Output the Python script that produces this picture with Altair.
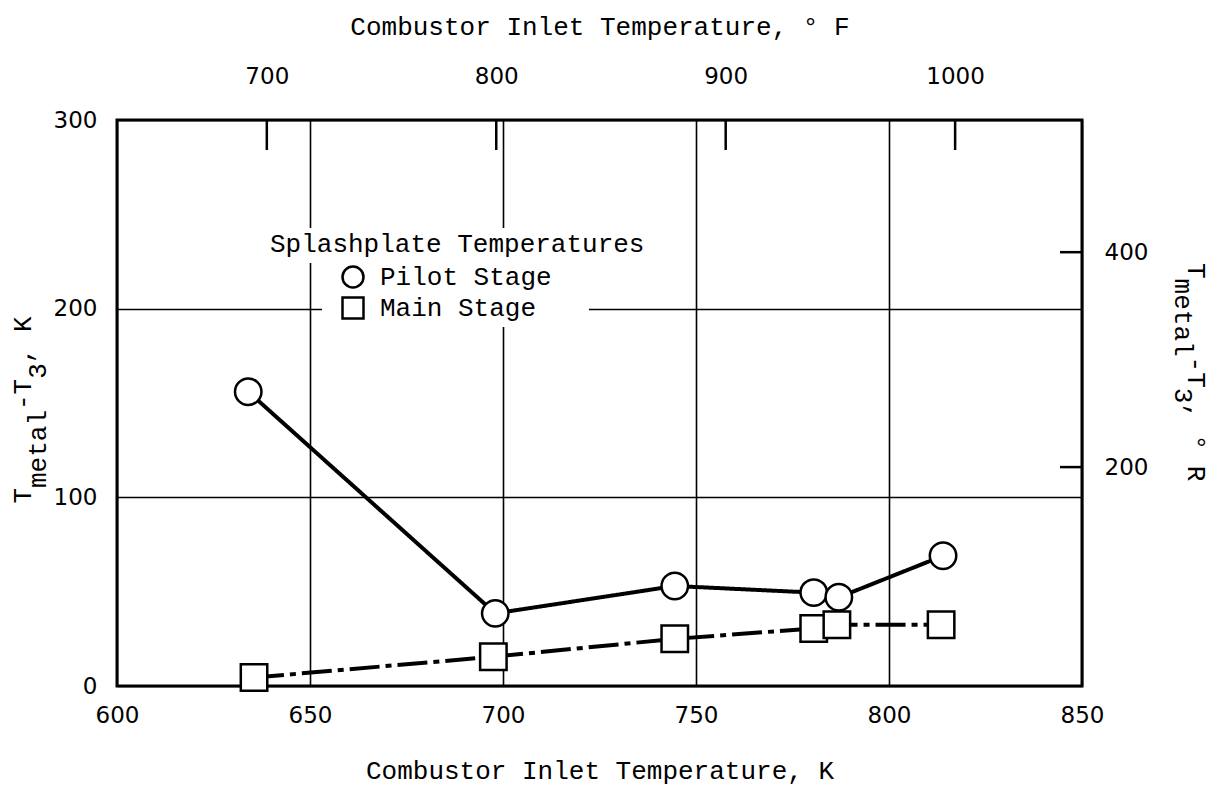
import altair as alt
import pandas as pd

# Splashplate metal temperature rise above the combustor inlet temperature
stages = ["Pilot Stage", "Main Stage"]
stage_shapes = ["circle", "square"]
inlet_K_pilot = [634, 698, 744.5, 780.5, 787, 814]
dT_pilot = [156, 38.5, 53, 49.5, 47, 69]
inlet_K_main = [635.5, 697.5, 744.5, 780.5, 786.5, 813.5]
dT_main = [4.5, 15.5, 25, 30.5, 32.5, 32.5]

# Axis tick values
k_ticks = [600, 650, 700, 750, 800, 850]
dT_ticks = [0, 100, 200, 300]
f_ticks = [700, 800, 900, 1000]
r_ticks = [200, 400]

# Scale extents (K and dT on the primary axes, deg F along the top, deg R on the right)
k_domain = [600, 850]
dT_domain = [0, 300]
f_domain = [634.7, 1055.3]
r_domain = [-3.7, 523]

legend_title = "Splashplate Temperatures"

W, H = 965, 566
MONO = "Liberation Mono"
NUM = "DejaVu Sans"

pilot = pd.DataFrame({"K": inlet_K_pilot, "dT": dT_pilot, "stage": stages[0]})
main = pd.DataFrame({"K": inlet_K_main, "dT": dT_main, "stage": stages[1]})
both = pd.concat([pilot, main], ignore_index=True)

k_scale = alt.Scale(domain=k_domain, nice=False, zero=False)
dT_scale = alt.Scale(domain=dT_domain, nice=False, zero=False)


def series_line(frame, dash):
    # connecting line of one stage; the axes are carried by the point layer
    return alt.Chart(frame).mark_line(
        color="black", strokeWidth=4, strokeCap="butt", strokeDash=dash
    ).encode(
        x=alt.X("K:Q", scale=k_scale, axis=None),
        y=alt.Y("dT:Q", scale=dT_scale, axis=None),
    )


pilot_line = series_line(pilot, [1, 0])
main_line = series_line(main, [30, 6, 6, 6])

points = alt.Chart(both).mark_point(
    size=700, filled=True, fill="white", stroke="black", strokeWidth=2.5, opacity=1
).encode(
    x=alt.X(
        "K:Q", scale=k_scale,
        axis=alt.Axis(orient="bottom", values=k_ticks, grid=True, ticks=False, tickSize=0,
                      domain=False, labelPadding=18, labelFlush=False, labelOverlap=False,
                      title="Combustor Inlet Temperature, K", titlePadding=30),
    ),
    y=alt.Y(
        "dT:Q", scale=dT_scale,
        axis=alt.Axis(orient="left", values=dT_ticks, grid=True, ticks=False, tickSize=0,
                      domain=False, labelPadding=20, labelOverlap=False, title=""),
    ),
    shape=alt.Shape(
        "stage:N",
        scale=alt.Scale(domain=stages, range=stage_shapes),
        legend=None,
    ),
)

# Inward ticks for the deg F (top) and deg R (right) scales
top_ticks = alt.Chart(pd.DataFrame({"F": f_ticks})).mark_rule(color="black", strokeWidth=2.5).encode(
    x=alt.X(
        "F:Q",
        scale=alt.Scale(domain=f_domain, nice=False, zero=False),
        axis=alt.Axis(orient="top", values=f_ticks, format="d", ticks=False, tickSize=0,
                      domain=False, grid=False, labelPadding=32, labelFlush=False,
                      labelOverlap=False,
                      title="Combustor Inlet Temperature, \u00b0 F", titlePadding=26),
    ),
    y=alt.value(0),
    y2=alt.value(30),
)
right_ticks = alt.Chart(pd.DataFrame({"R": r_ticks})).mark_rule(color="black", strokeWidth=2.5).encode(
    y=alt.Y(
        "R:Q",
        scale=alt.Scale(domain=r_domain, nice=False, zero=False),
        axis=alt.Axis(orient="right", values=r_ticks, format="d", ticks=False, tickSize=0,
                      domain=False, grid=False, labelPadding=22, labelOverlap=False, title=""),
    ),
    x=alt.value(W - 22),
    x2=alt.value(W),
)


def text_piece(txt, px, py, ang=0, baseline="alphabetic"):
    return alt.Chart(pd.DataFrame({"t": [txt]})).mark_text(
        font=MONO, fontSize=26, angle=ang, align="left", baseline=baseline, color="black"
    ).encode(text="t:N", x=alt.value(px), y=alt.value(py))


CW = 15.6  # advance of one monospace character at 26px

# Left title, reading upward: T_metal - T_3, K
ly0 = 383.6
left_title = [
    text_piece("T", -86, ly0, 270),
    text_piece("metal", -71, ly0 - 1 * CW, 270),
    text_piece("-T", -86, ly0 - 6 * CW, 270),
    text_piece("3", -71, ly0 - 8 * CW, 270),
    text_piece(", K", -86, ly0 - 9 * CW, 270),
]

# Right title, reading downward: T_metal - T_3, deg R
ry0 = 143
right_title = [
    text_piece("T", 1071, ry0, 90),
    text_piece("metal", 1058, ry0 + 1 * CW, 90),
    text_piece("-T", 1071, ry0 + 6 * CW, 90),
    text_piece("3", 1058, ry0 + 8 * CW, 90),
    text_piece(", \u00b0 R", 1071, ry0 + 9 * CW, 90),
]


# Key box: white patches over the grid, a heading and one row per stage
def patch(x0, x1, y0, y1):
    return alt.Chart(pd.DataFrame({"m": [0]})).mark_rect(color="white", opacity=1).encode(
        x=alt.value(x0), x2=alt.value(x1), y=alt.value(y0), y2=alt.value(y1)
    )


def key_symbol(shape, px, py):
    return alt.Chart(pd.DataFrame({"s": [shape]})).mark_point(
        shape=shape, size=441, filled=True, fill="white", stroke="black",
        strokeWidth=2.5, opacity=1,
    ).encode(x=alt.value(px), y=alt.value(py))


key_x, key_y, row_h = 236, 157, 31
key = [
    patch(151, 533, 108, 143),
    patch(205, 472, 140, 207),
    text_piece(legend_title, 153, 124, baseline="middle"),
]
for i, (name, shape) in enumerate(zip(stages, stage_shapes)):
    key.append(key_symbol(shape, key_x, key_y + i * row_h))
    key.append(text_piece(name, key_x + 27, key_y + i * row_h, baseline="middle"))

chart = (
    alt.layer(pilot_line, main_line, points, top_ticks, right_ticks,
              *left_title, *right_title, *key)
    .resolve_scale(x="independent", y="independent")
    .properties(
        width=W,
        height=H,
        autosize=alt.AutoSizeParams(type="none"),
        padding={"left": 117, "top": 120, "right": 142, "bottom": 105},
        background="white",
    )
    .configure_view(stroke="black", strokeWidth=3)
    .configure_axis(
        labelFont=NUM, labelFontSize=23, labelColor="black",
        titleFont=MONO, titleFontSize=26, titleFontWeight="normal", titleColor="black",
        gridColor="black", gridWidth=1.6, gridOpacity=1,
    )
)

chart.save("out.html", embed_options={"renderer": "svg", "actions": False})
